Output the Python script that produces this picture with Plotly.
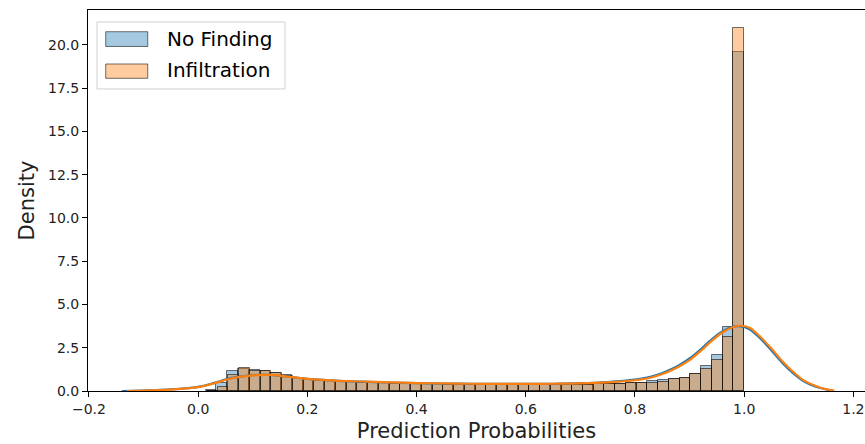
import numpy as np
import plotly.graph_objects as go

# Histogram densities (50 equal-width bins per class)
nf_bin_range = (0.0137, 1.0)
nf_density = [0.06, 0.45, 1.17, 1.30, 1.20, 1.18, 1.05, 0.90, 0.76, 0.71,
              0.62, 0.57, 0.54, 0.50, 0.48, 0.46, 0.44, 0.43, 0.41, 0.40,
              0.38, 0.38, 0.37, 0.36, 0.35, 0.34, 0.35, 0.33, 0.34, 0.34,
              0.33, 0.35, 0.34, 0.35, 0.36, 0.37, 0.38, 0.40, 0.41, 0.45,
              0.46, 0.58, 0.64, 0.70, 0.76, 1.00, 1.42, 2.06, 3.68, 19.60]

inf_bin_range = (0.0160, 1.0)
inf_density = [0.02, 0.25, 0.92, 1.35, 1.17, 1.17, 1.02, 0.88, 0.74, 0.70,
               0.60, 0.56, 0.53, 0.50, 0.48, 0.46, 0.45, 0.43, 0.41, 0.40,
               0.39, 0.38, 0.36, 0.36, 0.35, 0.35, 0.34, 0.34, 0.33, 0.35,
               0.34, 0.34, 0.35, 0.36, 0.36, 0.37, 0.38, 0.39, 0.39, 0.44,
               0.44, 0.48, 0.54, 0.69, 0.73, 0.96, 1.25, 1.79, 3.10, 20.97]

# Kernel density estimates
nf_kde_x = [-0.14, -0.10, -0.05, 0.00, 0.03, 0.06, 0.10, 0.13, 0.16, 0.20,
            0.25, 0.30, 0.35, 0.40, 0.45, 0.50, 0.55, 0.60, 0.65, 0.70,
            0.75, 0.80, 0.83, 0.86, 0.88, 0.90, 0.92, 0.94, 0.96, 0.98,
            0.995, 1.01, 1.03, 1.05, 1.07, 1.09, 1.11, 1.13, 1.15, 1.16]
nf_kde_y = [0.00, 0.03, 0.09, 0.24, 0.47, 0.74, 0.92, 0.93, 0.84, 0.70,
            0.60, 0.54, 0.49, 0.46, 0.43, 0.42, 0.41, 0.41, 0.42, 0.45,
            0.52, 0.66, 0.83, 1.17, 1.48, 1.88, 2.40, 2.97, 3.44, 3.72,
            3.73, 3.56, 3.02, 2.34, 1.62, 1.02, 0.55, 0.26, 0.09, 0.03]

inf_kde_x = [-0.13, -0.10, -0.05, 0.00, 0.03, 0.06, 0.10, 0.13, 0.16, 0.20,
             0.25, 0.30, 0.35, 0.40, 0.45, 0.50, 0.55, 0.60, 0.65, 0.70,
             0.75, 0.80, 0.83, 0.86, 0.88, 0.90, 0.92, 0.94, 0.96, 0.98,
             0.995, 1.01, 1.03, 1.05, 1.07, 1.09, 1.11, 1.13, 1.15, 1.165]
inf_kde_y = [0.00, 0.03, 0.08, 0.22, 0.45, 0.72, 0.90, 0.93, 0.85, 0.70,
             0.60, 0.55, 0.50, 0.46, 0.44, 0.42, 0.41, 0.41, 0.42, 0.44,
             0.50, 0.62, 0.78, 1.10, 1.40, 1.78, 2.30, 2.88, 3.38, 3.70,
             3.77, 3.65, 3.12, 2.45, 1.72, 1.10, 0.60, 0.30, 0.10, 0.03]

x_ticks = [-0.2, 0.0, 0.2, 0.4, 0.6, 0.8, 1.0, 1.2]
y_ticks = [0.0, 2.5, 5.0, 7.5, 10.0, 12.5, 15.0, 17.5, 20.0]

labels = ["No Finding", "Infiltration"]
BLUE_FILL = "rgba(31,119,180,0.4)"
ORANGE_FILL = "rgba(255,127,14,0.4)"
EDGE = "rgba(0,0,0,0.55)"
FONT = "DejaVu Sans"


def bin_geometry(bin_range, n):
    edges = np.linspace(bin_range[0], bin_range[1], n + 1)
    return (edges[:-1] + edges[1:]) / 2, np.diff(edges)


fig = go.Figure()

series = [
    (labels[0], nf_bin_range, nf_density, nf_kde_x, nf_kde_y, BLUE_FILL, "#1f77b4"),
    (labels[1], inf_bin_range, inf_density, inf_kde_x, inf_kde_y, ORANGE_FILL, "#ff7f0e"),
]
for name, rng, dens, kx, ky, fill, line in series:
    centers, widths = bin_geometry(rng, len(dens))
    fig.add_trace(go.Bar(
        x=centers, y=dens, width=widths, name=name,
        marker=dict(color=fill, line=dict(color=EDGE, width=1)),
        showlegend=False,
    ))
    fig.add_trace(go.Scatter(
        x=kx, y=ky, mode="lines", line=dict(color=line, width=2.2, shape="spline", smoothing=0.8),
        showlegend=False, hoverinfo="skip",
    ))

# Legend box drawn in paper space
fig.add_shape(type="rect", xref="paper", yref="paper", x0=0.0116, x1=0.2535, y0=0.7927, y1=0.9685,
              line=dict(color="#d0d0d0", width=1), fillcolor="rgba(255,255,255,0.8)", layer="above")
legend_rows = [(labels[0], BLUE_FILL, 0.9043, 0.9430, 0.923), (labels[1], ORANGE_FILL, 0.8207, 0.8583, 0.8425)]
for text, fill, y0, y1, ty in legend_rows:
    fig.add_shape(type="rect", xref="paper", yref="paper", x0=0.0228, x1=0.0769, y0=y0, y1=y1,
                  line=dict(color=EDGE, width=1), fillcolor=fill, layer="above")
    fig.add_annotation(text=text, xref="paper", yref="paper", x=0.0985, y=ty, xanchor="left",
                       yanchor="middle", showarrow=False, font=dict(family=FONT, size=20, color="black"))

axis_common = dict(
    showgrid=False, zeroline=False, showline=True, linecolor="black", linewidth=1, mirror=True,
    ticks="outside", ticklen=5, tickcolor="black", tickfont=dict(family=FONT, size=14, color="#222"),
)
fig.update_layout(
    width=865, height=444, margin=dict(l=88, r=0, t=10, b=53),
    plot_bgcolor="white", paper_bgcolor="white", barmode="overlay", bargap=0,
    xaxis=dict(range=[-0.2018, 1.2213], tickvals=x_ticks, ticktext=[f"{v:.1f}".replace("-", "\u2212") for v in x_ticks],
               title=dict(text="Prediction Probabilities", font=dict(family=FONT, size=21, color="#222"), standoff=7),
               **axis_common),
    yaxis=dict(range=[0, 22.02], tickvals=y_ticks, ticktext=[f"{v:.1f}" for v in y_ticks],
               title=dict(text="Density", font=dict(family=FONT, size=21, color="#222"), standoff=7),
               **axis_common),
)

fig.write_html("out.html")
